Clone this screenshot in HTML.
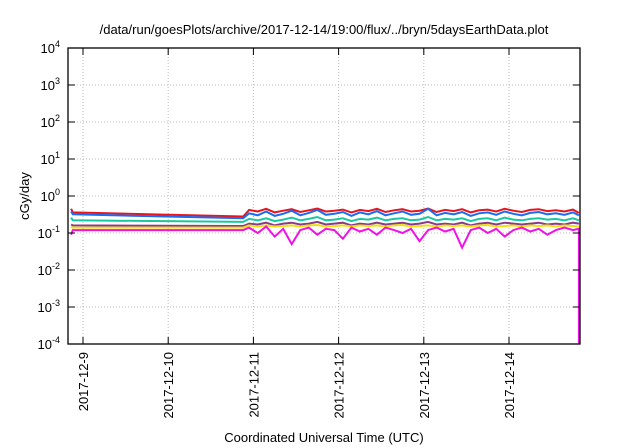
<!DOCTYPE html>
<html><head><meta charset="utf-8"><style>
body{margin:0;background:#fff;}
svg{display:block;font-family:"Liberation Sans",sans-serif;}
</style></head><body>
<svg id="chart" width="640" height="448" viewBox="0 0 640 448">
<rect width="640" height="448" fill="#fff"/>
<text x="324" y="34" text-anchor="middle" font-size="13">/data/run/goesPlots/archive/2017-12-14/19:00/flux/../bryn/5daysEarthData.plot</text>
<text transform="translate(29,196) rotate(-90)" text-anchor="middle" font-size="13">cGy/day</text>
<text x="324" y="442" text-anchor="middle" font-size="13">Coordinated Universal Time (UTC)</text>
<g id="grid"></g><g id="series"></g><g id="axes"></g>
</svg>
<script>
const yExps=[-4,-3,-2,-1,0,1,2,3,4];
const xTickDays=[0,1,2,3,4,5];
const xTickLabels=["2017-12-9","2017-12-10","2017-12-11","2017-12-12","2017-12-13","2017-12-14"];
const times=[-0.14,-0.12,1.88,1.95,2.05,2.15,2.25,2.35,2.45,2.55,2.65,2.75,2.85,2.95,3.05,3.15,3.25,3.35,3.45,3.55,3.65,3.75,3.85,3.95,4.05,4.15,4.25,4.35,4.45,4.55,4.65,4.75,4.85,4.95,5.05,5.15,5.25,5.35,5.45,5.55,5.65,5.75,5.82,5.82];
const red=[0.45,0.36,0.28,0.42,0.38,0.45,0.36,0.40,0.44,0.37,0.41,0.46,0.38,0.40,0.43,0.36,0.42,0.39,0.45,0.37,0.41,0.44,0.38,0.40,0.46,0.37,0.42,0.39,0.44,0.36,0.41,0.43,0.38,0.45,0.40,0.37,0.42,0.44,0.39,0.41,0.38,0.43,0.35];
const blue=[0.38,0.32,0.25,0.34,0.30,0.38,0.29,0.33,0.40,0.30,0.35,0.42,0.31,0.33,0.37,0.29,0.36,0.32,0.39,0.30,0.34,0.38,0.31,0.33,0.45,0.30,0.35,0.32,0.37,0.29,0.34,0.36,0.31,0.38,0.33,0.30,0.35,0.37,0.32,0.34,0.31,0.36,0.30];
const teal=[0.26,0.22,0.20,0.24,0.22,0.25,0.21,0.23,0.26,0.22,0.24,0.27,0.22,0.23,0.25,0.21,0.24,0.23,0.26,0.22,0.24,0.25,0.22,0.23,0.27,0.22,0.24,0.23,0.25,0.21,0.24,0.25,0.22,0.26,0.23,0.22,0.24,0.25,0.23,0.24,0.22,0.25,0.22];
const purple=[0.17,0.16,0.155,0.18,0.17,0.19,0.16,0.18,0.19,0.17,0.18,0.20,0.17,0.18,0.19,0.16,0.18,0.17,0.19,0.17,0.18,0.19,0.17,0.18,0.20,0.17,0.18,0.17,0.19,0.16,0.18,0.19,0.17,0.19,0.18,0.17,0.18,0.19,0.17,0.18,0.17,0.19,0.18];
const yellow=[0.15,0.14,0.14,0.16,0.15,0.16,0.15,0.155,0.16,0.15,0.16,0.165,0.15,0.155,0.16,0.15,0.16,0.155,0.16,0.15,0.16,0.165,0.15,0.155,0.16,0.15,0.16,0.155,0.16,0.15,0.16,0.165,0.15,0.155,0.16,0.15,0.16,0.155,0.16,0.15,0.16,0.155,0.15];
const magenta=[0.09,0.12,0.12,0.14,0.10,0.15,0.08,0.13,0.05,0.12,0.14,0.09,0.13,0.12,0.07,0.14,0.11,0.13,0.09,0.14,0.12,0.10,0.13,0.06,0.12,0.14,0.11,0.13,0.04,0.12,0.14,0.10,0.13,0.08,0.12,0.14,0.11,0.13,0.09,0.12,0.14,0.12,0.13,0.0001];
const L=68,R=580,T=48,B=344;
const xS=d=>83+d*85.2;
const yS=v=>T+(4-Math.log10(v))*(B-T)/8;
const NS="http://www.w3.org/2000/svg";
const mk=(t,p,a)=>{const e=document.createElementNS(NS,t);for(const k in a)e.setAttribute(k,a[k]);p.appendChild(e);return e;};
const grid=document.getElementById('grid'),ser=document.getElementById('series'),axes=document.getElementById('axes');
yExps.forEach(e=>{
  const y=yS(Math.pow(10,e));
  if(e>-4&&e<4){const g=mk('line',grid,{x1:L,x2:R,y1:y,y2:y,stroke:'#bbb','stroke-dasharray':'1,2','stroke-width':1});
  
  }
  const t=mk('line',axes,{x1:L,x2:L+7,y1:y,y2:y,stroke:'#000'});
  
  
  mk('line',axes,{x1:R,x2:R-7,y1:y,y2:y,stroke:'#000'});
  const tx=mk('text',axes,{x:60,y:y+5,'text-anchor':'end','font-size':13});
  
  
  tx.innerHTML='10<tspan font-size="9" dy="-6">'+e+'</tspan>';
});
xTickDays.forEach((d,i)=>{
  const x=xS(d);
  const g=mk('line',grid,{x1:x,x2:x,y1:T,y2:B,stroke:'#bbb','stroke-dasharray':'1,2'});
  
  
  mk('line',axes,{x1:x,x2:x,y1:B,y2:B-7,stroke:'#000'});
  mk('line',axes,{x1:x,x2:x,y1:T,y2:T+7,stroke:'#000'});
  const tx=mk('text',axes,{transform:`translate(${x+5},352) rotate(-90)`,'text-anchor':'end','font-size':13});
  
  
  tx.textContent=xTickLabels[i];
});
const list=[["red-series",red,"#e8141e"],["blue-series",blue,"#1a6cf0"],["teal-series",teal,"#18c8a0"],["purple-series",purple,"#8a3a8a"],["yellow-series",yellow,"#f0e010"],["magenta-series",magenta,"#f010e8"]];
list.forEach(([n,arr,c])=>{
  const pts=arr.map((v,i)=>xS(times[i]).toFixed(1)+','+yS(v).toFixed(1)).join(' ');
  const p=mk('polyline',ser,{points:pts,fill:'none',stroke:c,'stroke-width':2,'stroke-linejoin':'miter'});
  
  
});
const fr=mk('rect',axes,{x:L,y:T,width:R-L,height:B-T,fill:'none',stroke:'#000','stroke-width':1.3});


</script>
</body></html>
